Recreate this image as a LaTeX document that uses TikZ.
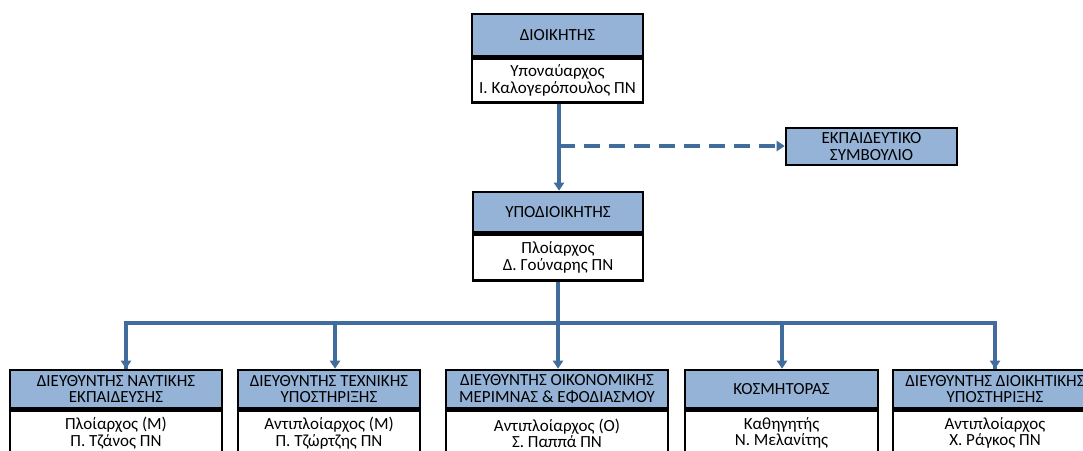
\documentclass[tikz,border=0pt]{standalone}
\usepackage{fontspec}
\setmainfont{Carlito}
\usetikzlibrary{arrows.meta}
\definecolor{hdrblue}{RGB}{149,179,215}
\definecolor{lineblue}{RGB}{65,109,156}
\tikzset{
  box/.style={draw=black, line width=2.6pt, inner sep=0pt, align=center,
    font=\fontsize{17}{16.5}\selectfont, text=black},
  hdr/.style={box, fill=hdrblue},
  bodybox/.style={box, fill=white, anchor=north},
  conn/.style={draw=lineblue, line width=3.4pt},
  tip/.style={-{Triangle[width=10pt,length=8pt]}},
  dashconn/.style={conn, dash pattern=on 16pt off 9pt}
}
\begin{document}
\begin{tikzpicture}[x=1pt,y=-1pt]
\useasboundingbox (0,0) rectangle (1083,450);
\clip (0,0) rectangle (1083,450);
% top
\node[hdr, minimum width=171, minimum height=42] (d) at (557.5,35) {ΔΙΟΙΚΗΤΗΣ};
\node[bodybox, minimum width=171, minimum height=44] (db) at (d.south) {Υποναύαρχος\\Ι. Καλογερόπουλος ΠΝ};
% educational council
\node[hdr, minimum width=171, minimum height=37] (ek) at (871.5,146.5) {ΕΚΠΑΙΔΕΥΤΙΚΟ\\ΣΥΜΒΟΥΛΙΟ};
% deputy
\node[hdr, minimum width=170, minimum height=40] (u) at (558,212) {ΥΠΟΔΙΟΙΚΗΤΗΣ};
\node[bodybox, minimum width=170, minimum height=46] (ub) at (u.south) {Πλοίαρχος\\Δ. Γούναρης ΠΝ};
% bottom row
\node[hdr, minimum width=212, minimum height=38] (b1) at (116,389) {ΔΙΕΥΘΥΝΤΗΣ ΝΑΥΤΙΚΗΣ\\ΕΚΠΑΙΔΕΥΣΗΣ};
\node[bodybox, minimum width=212, minimum height=45] (b1b) at (b1.south) {Πλοίαρχος (Μ)\\Π. Τζάνος ΠΝ};
\node[hdr, minimum width=182, minimum height=38] (b2) at (329,389) {ΔΙΕΥΘΥΝΤΗΣ ΤΕΧΝΙΚΗΣ\\ΥΠΟΣΤΗΡΙΞΗΣ};
\node[bodybox, minimum width=182, minimum height=45] (b2b) at (b2.south) {Αντιπλοίαρχος (Μ)\\Π. Τζώρτζης ΠΝ};
\node[hdr, minimum width=222, minimum height=38] (b3) at (557,389) {ΔΙΕΥΘΥΝΤΗΣ ΟΙΚΟΝΟΜΙΚΗΣ\\ΜΕΡΙΜΝΑΣ \& ΕΦΟΔΙΑΣΜΟΥ};
\node[bodybox, minimum width=222, minimum height=45] (b3b) at (b3.south) {Αντιπλοίαρχος (Ο)\\Σ. Παππά ΠΝ};
\node[hdr, minimum width=193, minimum height=38] (b4) at (781.5,389) {ΚΟΣΜΗΤΟΡΑΣ};
\node[bodybox, minimum width=193, minimum height=45] (b4b) at (b4.south) {Καθηγητής\\Ν. Μελανίτης};
\node[hdr, minimum width=204, minimum height=38] (b5) at (995,389) {ΔΙΕΥΘΥΝΤΗΣ ΔΙΟΙΚΗΤΙΚΗΣ\\ΥΠΟΣΤΗΡΙΞΗΣ};
\node[bodybox, minimum width=204, minimum height=45] (b5b) at (b5.south) {Αντιπλοίαρχος\\Χ. Ράγκος ΠΝ};
% connectors
\coordinate (j) at (559,146);
\draw[conn, tip] (db.south -| 559,0) -- (u.north -| 559,0);
\draw[dashconn, tip] (j) -- (j -| ek.west);
\coordinate (bl) at (126,323);
\coordinate (br) at (995,323);
\coordinate (bm) at (558,323);
\coordinate (x2) at (335,323);
\coordinate (x4) at (782,323);
\draw[conn] (ub.south -| bm) -- (bm);
\draw[conn, line join=miter] (bl |- b1.north) -- (bl) -- (br) -- (br |- b5.north);
\draw[conn, tip] (bl) -- (bl |- b1.north);
\draw[conn, tip] (x2) -- (x2 |- b2.north);
\draw[conn, tip] (bm) -- (bm |- b3.north);
\draw[conn, tip] (x4) -- (x4 |- b4.north);
\draw[conn, tip] (br) -- (br |- b5.north);
\end{tikzpicture}
\end{document}
